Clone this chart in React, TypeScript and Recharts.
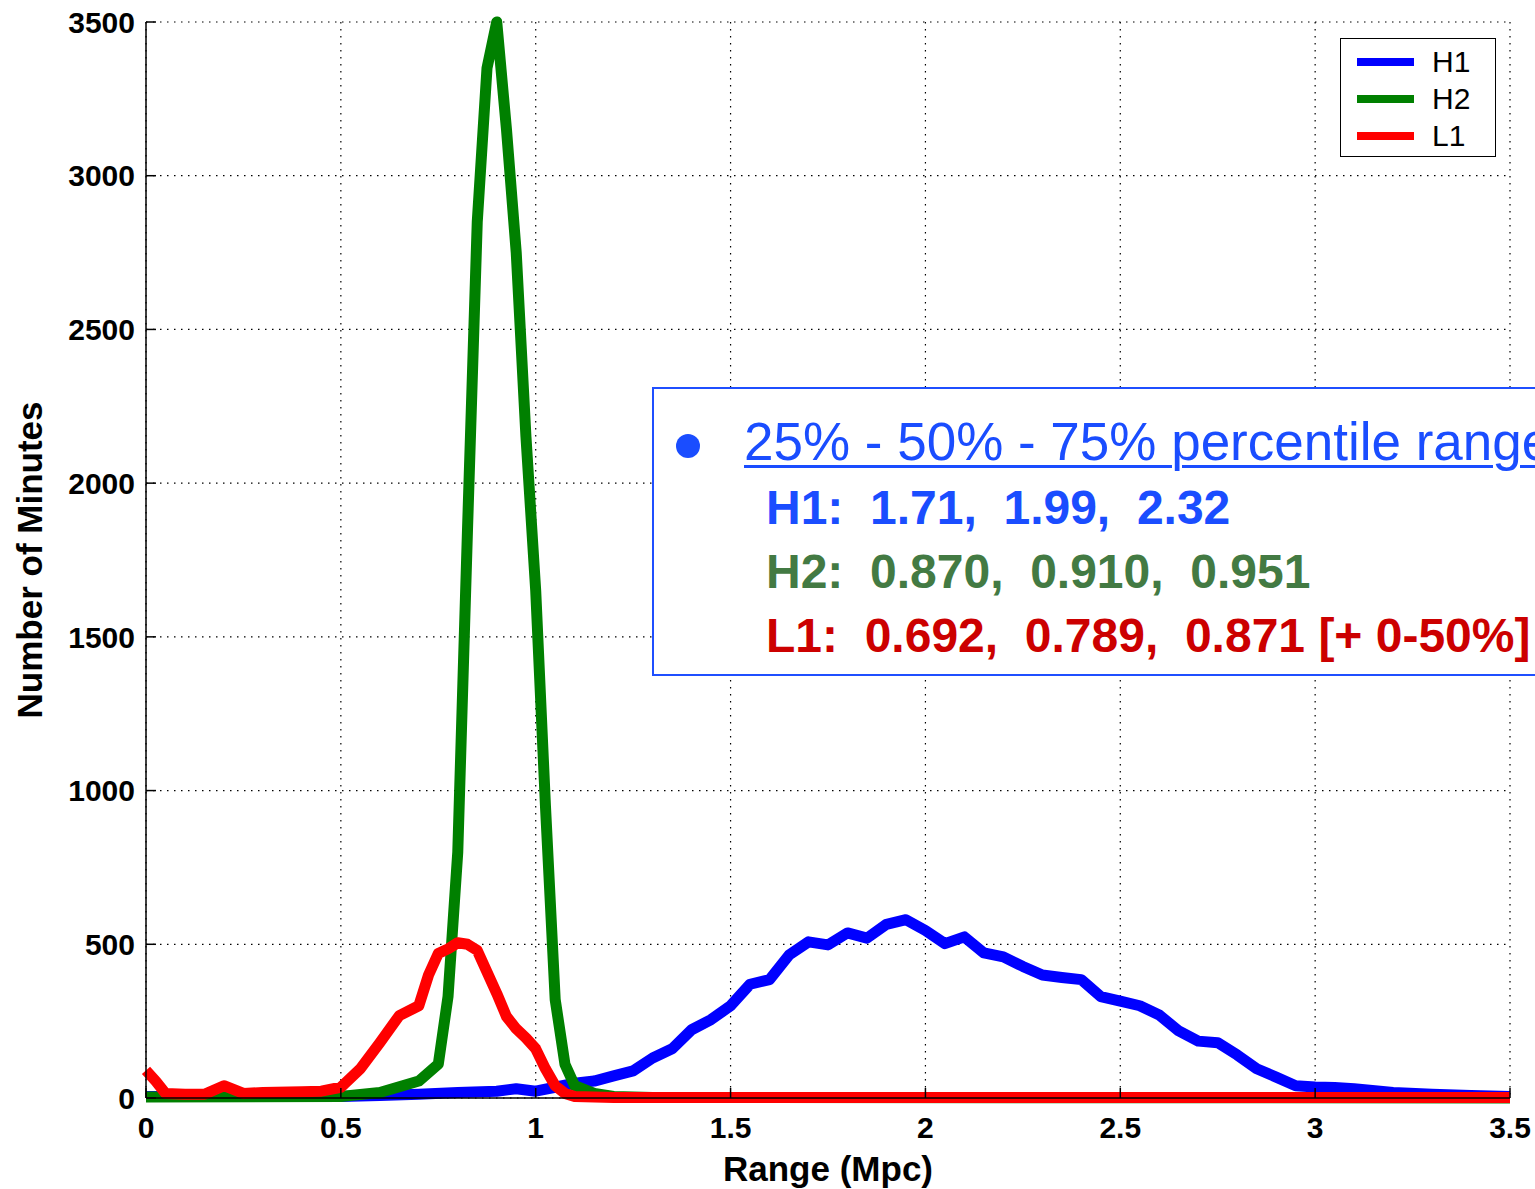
import React from "react";
import {
  LineChart,
  Line,
  XAxis,
  YAxis,
  CartesianGrid,
  Legend,
} from "recharts";

// tick values
const xTicks = [0, 0.5, 1, 1.5, 2, 2.5, 3, 3.5];
const yTicks = [0, 500, 1000, 1500, 2000, 2500, 3000, 3500];

// H1 (blue) - range in Mpc vs number of minutes
const h1X = [
  0, 0.25, 0.5, 0.6, 0.7, 0.8, 0.9, 0.95, 1.0, 1.05, 1.1, 1.15, 1.2, 1.25, 1.3,
  1.35, 1.4, 1.45, 1.5, 1.55, 1.6, 1.65, 1.7, 1.75, 1.8, 1.85, 1.9, 1.95, 2.0,
  2.05, 2.1, 2.15, 2.2, 2.25, 2.3, 2.35, 2.4, 2.45, 2.5, 2.55, 2.6, 2.65, 2.7,
  2.75, 2.8, 2.85, 2.9, 2.95, 3.0, 3.05, 3.1, 3.2, 3.3, 3.4, 3.5,
];
const h1Y = [
  5, 5, 5, 8, 12, 18, 22, 30, 22, 35, 48, 55, 72, 88, 130, 160, 222, 255, 300,
  370, 385, 465, 508, 498, 537, 520, 565, 580, 545, 502, 524, 472, 459, 428, 400,
  392, 385, 330, 315, 300, 270, 218, 185, 180, 140, 95, 68, 40, 36, 34, 30, 18,
  12, 8, 5,
];

// H2 (green)
const h2X = [
  0, 0.5, 0.6, 0.7, 0.75, 0.775, 0.8, 0.825, 0.85, 0.875, 0.9, 0.925, 0.95,
  0.975, 1.0, 1.025, 1.05, 1.075, 1.1, 1.15, 1.2, 1.3, 3.5,
];
const h2Y = [
  3, 5, 18, 55, 110, 330, 800, 1850, 2850, 3350, 3500, 3150, 2750, 2150, 1650,
  950, 320, 110, 40, 15, 5, 2, 0,
];

// L1 (red)
const l1X = [
  0, 0.025, 0.05, 0.1, 0.15, 0.2, 0.25, 0.3, 0.4, 0.45, 0.5, 0.55, 0.6, 0.65,
  0.7, 0.725, 0.75, 0.775, 0.8, 0.825, 0.85, 0.875, 0.9, 0.925, 0.95, 0.975,
  1.0, 1.025, 1.05, 1.075, 1.1, 1.2, 3.5,
];
const l1Y = [
  90, 55, 15, 12, 12, 40, 15, 18, 20, 22, 35, 95, 180, 268, 300, 400, 470, 485,
  505, 500, 480, 410, 340, 265, 225, 195, 160, 95, 40, 15, 5, 2, 2,
];

const zip = (xs: number[], ys: number[]) => xs.map((x, i) => ({ x, y: ys[i] }));

const series = [
  { name: "H1", color: "#0000ff", data: zip(h1X, h1Y) },
  { name: "H2", color: "#008000", data: zip(h2X, h2Y) },
  { name: "L1", color: "#ff0000", data: zip(l1X, l1Y) },
];

const percentileRows = [
  { text: "H1:  1.71,  1.99,  2.32", color: "#1a4dff" },
  { text: "H2:  0.870,  0.910,  0.951", color: "#437a43" },
  { text: "L1:  0.692,  0.789,  0.871 [+ 0-50%]", color: "#cc0000" },
];

const FONT = '"Liberation Sans", Arial, Helvetica, sans-serif';

const LegendBox = () => (
  <div
    style={{
      width: 156,
      height: 119,
      background: "#fff",
      border: "1.5px solid #000",
      boxSizing: "border-box",
      paddingTop: 4,
      fontFamily: FONT,
    }}
  >
    {series.map((s) => (
      <div
        key={s.name}
        style={{ display: "flex", alignItems: "center", height: 37 }}
      >
        <div
          style={{
            width: 57,
            height: 8,
            background: s.color,
            marginLeft: 16,
            marginRight: 18,
          }}
        />
        <span style={{ fontSize: 30, color: "#000" }}>{s.name}</span>
      </div>
    ))}
  </div>
);

export default function App() {
  return (
    <div
      style={{
        position: "absolute",
        left: 0,
        top: 0,
        width: 1535,
        height: 1189,
        overflow: "hidden",
        background: "#fff",
        fontFamily: FONT,
      }}
    >
      <LineChart
        width={1535}
        height={1189}
        margin={{ top: 22, right: 25, bottom: 0, left: 0 }}
      >
        <CartesianGrid
          stroke="#000"
          strokeWidth={1.2}
          strokeDasharray="1.5 5.5"
          horizontalValues={yTicks}
          verticalValues={xTicks}
        />
        <XAxis
          type="number"
          dataKey="x"
          domain={[0, 3.5]}
          ticks={xTicks}
          height={91}
          tickSize={-10}
          tickMargin={29}
          axisLine={{ stroke: "#000", strokeWidth: 1.5 }}
          tickLine={{ stroke: "#000", strokeWidth: 1.5 }}
          tick={{ fill: "#000", fontSize: 30, fontWeight: 700, fontFamily: FONT }}
          tickFormatter={(v) => String(v)}
          label={{
            value: "Range (Mpc)",
            position: "insideBottom",
            offset: 8,
            fill: "#000",
            fontSize: 35,
            fontWeight: 700,
            fontFamily: FONT,
          }}
        />
        <XAxis
          xAxisId="top"
          orientation="top"
          type="number"
          dataKey="x"
          domain={[0, 3.5]}
          ticks={xTicks}
          height={0}
          tickSize={-10}
          axisLine={{ stroke: "#000", strokeWidth: 1.5 }}
          tickLine={{ stroke: "#000", strokeWidth: 1.5 }}
          tickFormatter={() => ""}
        />
        <YAxis
          type="number"
          domain={[0, 3500]}
          ticks={yTicks}
          width={146}
          tickSize={-10}
          tickMargin={21}
          axisLine={{ stroke: "#000", strokeWidth: 1.5 }}
          tickLine={{ stroke: "#000", strokeWidth: 1.5 }}
          tick={{ fill: "#000", fontSize: 30, fontWeight: 700, fontFamily: FONT }}
          label={{
            value: "Number of Minutes",
            angle: -90,
            position: "insideLeft",
            offset: 30,
            fill: "#000",
            fontSize: 35,
            fontWeight: 700,
            fontFamily: FONT,
            style: { textAnchor: "middle" },
          }}
        />
        <YAxis
          yAxisId="right"
          orientation="right"
          type="number"
          domain={[0, 3500]}
          ticks={yTicks}
          width={0}
          tickSize={-10}
          axisLine={{ stroke: "#000", strokeWidth: 1.5 }}
          tickLine={{ stroke: "#000", strokeWidth: 1.5 }}
          tickFormatter={() => ""}
        />
        <Legend
          layout="vertical"
          align="center"
          verticalAlign="middle"
          wrapperStyle={{ left: 1340, top: 38, width: 156, height: 119 }}
          content={() => <LegendBox />}
        />
        {series.map((s) => (
          <Line
            key={s.name}
            data={s.data}
            dataKey="y"
            name={s.name}
            type="linear"
            stroke={s.color}
            strokeWidth={11}
            strokeLinejoin="round"
            dot={false}
            activeDot={false}
            isAnimationActive={false}
          />
        ))}
      </LineChart>

      {/* percentile annotation box (runs off the right edge, as in the original slide) */}
      <div
        style={{
          position: "absolute",
          left: 652,
          top: 387,
          width: 950,
          height: 289,
          border: "2px solid #1f4fff",
          background: "#fff",
          boxSizing: "border-box",
        }}
      >
        <div
          style={{
            position: "absolute",
            left: 22,
            top: 45,
            width: 24,
            height: 24,
            borderRadius: "50%",
            background: "#1a4dff",
          }}
        />
        <div
          style={{
            position: "absolute",
            left: 90,
            top: 26,
            fontSize: 53,
            lineHeight: "53px",
            color: "#1a4dff",
            textDecoration: "underline",
            textDecorationThickness: 3,
            textUnderlineOffset: 5,
            whiteSpace: "pre",
          }}
        >
          25% - 50% - 75% percentile range
        </div>
        {percentileRows.map((r, i) => (
          <div
            key={r.text}
            style={{
              position: "absolute",
              left: 112,
              top: 95 + i * 64,
              fontSize: 48,
              lineHeight: "48px",
              fontWeight: 700,
              color: r.color,
              whiteSpace: "pre",
            }}
          >
            {r.text}
          </div>
        ))}
      </div>
    </div>
  );
}
